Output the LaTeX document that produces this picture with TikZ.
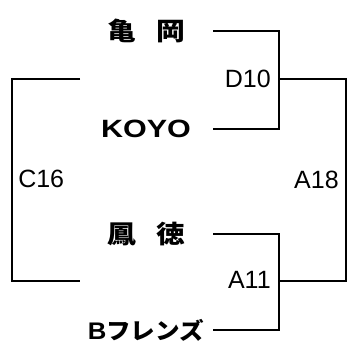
\documentclass[tikz,border=0pt]{standalone}
\usepackage{fontspec}
\usepackage{graphicx}
\setmainfont{Liberation Sans}
\newfontfamily\jpfont{Noto Sans CJK JP}
\usetikzlibrary{positioning}

\begin{document}
\begin{tikzpicture}[x=1pt, y=1pt, line width=2.6pt,
    team/.style={minimum width=132pt, inner sep=0pt, font=\bfseries\fontsize{23}{23}\selectfont},
    match/.style={inner sep=0pt, font=\fontsize{25}{25}\selectfont}]
    \useasboundingbox (0,0) rectangle (349,-348);

    \node[team] (kameoka) at (146,-31) {\scalebox{1.15}[1]{\jpfont\fontsize{25}{25}\selectfont 亀\hspace{0.7em}岡}};
    \node[team] (koyo) at (146,-129) {\scalebox{1.22}[1]{\fontsize{25}{25}\selectfont KOYO}};
    \node[team] (houtoku) at (146,-234) {\scalebox{1.15}[1]{\jpfont\fontsize{25}{25}\selectfont 鳳\hspace{0.7em}徳}};
    \node[team] (friends) at (146,-330) {\scalebox{1.07}[1]{\fontsize{24}{24}\selectfont B\jpfont\fontsize{23}{23}\selectfont フレンズ}};

    \coordinate (d10) at (279,-79);
    \coordinate (a11) at (279,-281);
    \coordinate (a18) at (346,-180);
    \coordinate (c16) at (12,-180);
    \coordinate (c16top) at (80,-79);
    \coordinate (c16bot) at (80,-281);

    \draw (kameoka.east) -| (d10) |- (koyo.east);
    \draw (houtoku.east) -| (a11) |- (friends.east);
    \draw (d10) -| (a18) |- (a11);
    \draw (c16top) -| (c16) |- (c16bot);

    \node[match, anchor=east] (d10lab) at (272,-79) {D10};
    \node[match, anchor=east] (a11lab) at (272,-280) {A11};
    \node[match, anchor=east] (a18lab) at (340,-180) {A18};
    \node[match, anchor=west] (c16lab) at (17,-179) {C16};
\end{tikzpicture}
\end{document}
